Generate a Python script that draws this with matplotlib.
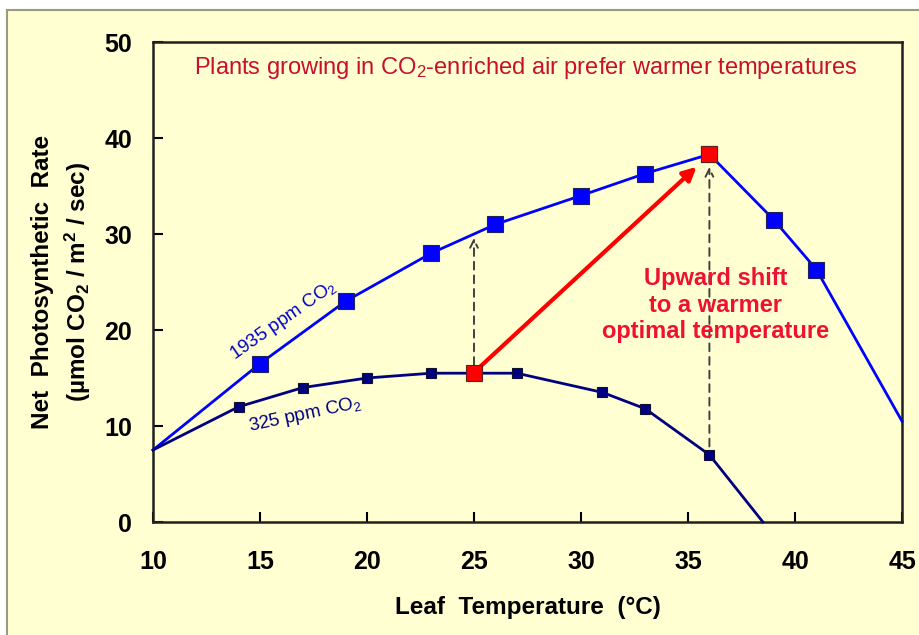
import matplotlib.pyplot as plt
from matplotlib.patches import Rectangle

plt.rcParams['font.family'] = ['Liberation Sans', 'DejaVu Sans']
plt.rcParams['mathtext.default'] = 'regular'

# 1935 ppm CO2 (end points have no marker)
temp_high = [10, 15, 19, 23, 26, 30, 33, 36, 39, 41, 45]
rate_high = [7.5, 16.5, 23, 28, 31, 34, 36.3, 38.3, 31.5, 26.3, 10.5]

# 325 ppm CO2
temp_low = [10, 14, 17, 20, 23, 25, 27, 31, 33, 36, 38.5]
rate_low = [7.5, 12, 14, 15, 15.5, 15.5, 15.5, 13.5, 11.8, 7.0, 0]

# optimum points
opt_low = (25, 15.5)
opt_high = (36, 38.3)
arrow_top_low = 29.6
arrow_top_high = 37.0

xticks = [10, 15, 20, 25, 30, 35, 40, 45]
yticks = [0, 10, 20, 30, 40, 50]

bg = '#FFFFD2'
fig = plt.figure(figsize=(9.19, 6.35), dpi=100)
fig.patch.set_facecolor('white')
fig.patches.append(Rectangle((7 / 919, -0.01), 1.0, 1 - 10 / 635 + 0.01,
                             transform=fig.transFigure, facecolor=bg,
                             edgecolor='#9A9A80', linewidth=1.5, zorder=-5))

ax = fig.add_axes([153 / 919, 1 - 522 / 635, (902 - 153) / 919, (522 - 42) / 635])
ax.set_facecolor(bg)

ax.plot(temp_high, rate_high, color='#0000FF', lw=2, marker='s', ms=11,
        mfc='#0000FF', mec='#202060', mew=0.8, markevery=list(range(1, 10)),
        clip_on=False, zorder=3)
ax.plot(temp_low, rate_low, color='#000080', lw=2, marker='s', ms=7,
        mfc='#000080', mec='#101030', mew=0.8, markevery=list(range(1, 10)),
        clip_on=False, zorder=3)

# red optimum markers
ax.plot(*opt_low, marker='s', ms=11, mfc='#FF0000', mec='#602020', mew=0.8, zorder=5)
ax.plot(*opt_high, marker='s', ms=11, mfc='#FF0000', mec='#602020', mew=0.8, zorder=5)

# dashed arrows
dash = dict(arrowstyle='->', color='#404040', lw=1.4, linestyle=(0, (4, 3)),
            mutation_scale=14, shrinkA=6, shrinkB=0)
ax.annotate('', xy=(opt_low[0], arrow_top_low), xytext=opt_low, arrowprops=dash, zorder=2)
ax.annotate('', xy=(opt_high[0], arrow_top_high), xytext=(opt_high[0], rate_low[9]),
            arrowprops=dash, zorder=2)

# red arrow
ax.annotate('', xy=(35.4, 37.0), xytext=(25.2, 16.0),
            arrowprops=dict(arrowstyle='-|>', color='#FF0000', lw=3,
                            mutation_scale=20, shrinkA=0, shrinkB=0), zorder=4)

ax.text(27.4, 47.3, 'Plants growing in CO$_2$-enriched air prefer warmer temperatures',
        ha='center', va='center', fontsize=17, color='#C8102E')
ax.text(36.3, 22.6, 'Upward shift\nto a warmer\noptimal temperature', ha='center',
        va='center', fontsize=17, fontweight='bold', color='#EE1133', linespacing=1.2)
ax.text(16.1, 21.0, '1935 ppm CO$_2$', rotation=35, ha='center', va='center',
        fontsize=13.5, color='#0000CC')
ax.text(17.1, 11.2, '325 ppm CO$_2$', rotation=12, ha='center', va='center',
        fontsize=13.5, color='#000080')

ax.set_xlim(10, 45)
ax.set_ylim(0, 50)
ax.set_xticks(xticks)
ax.set_yticks(yticks)
ax.tick_params(direction='in', length=7, width=1.5, labelsize=18, pad=20)
ax.tick_params(axis='y', pad=15)
for lab in ax.get_xticklabels() + ax.get_yticklabels():
    lab.set_fontweight('bold')
for s in ax.spines.values():
    s.set_linewidth(1.8)
    s.set_color('#202020')

ax.set_xlabel('Leaf  Temperature  (°C)', fontsize=17.5, fontweight='bold', labelpad=16)
ax.set_ylabel('Net  Photosynthetic  Rate\n(µmol CO$_2$ / m$^2$ / sec)', fontsize=17.5,
              fontweight='bold', labelpad=8, linespacing=1.4)

fig.savefig('out.png', dpi=100, facecolor=fig.get_facecolor())
